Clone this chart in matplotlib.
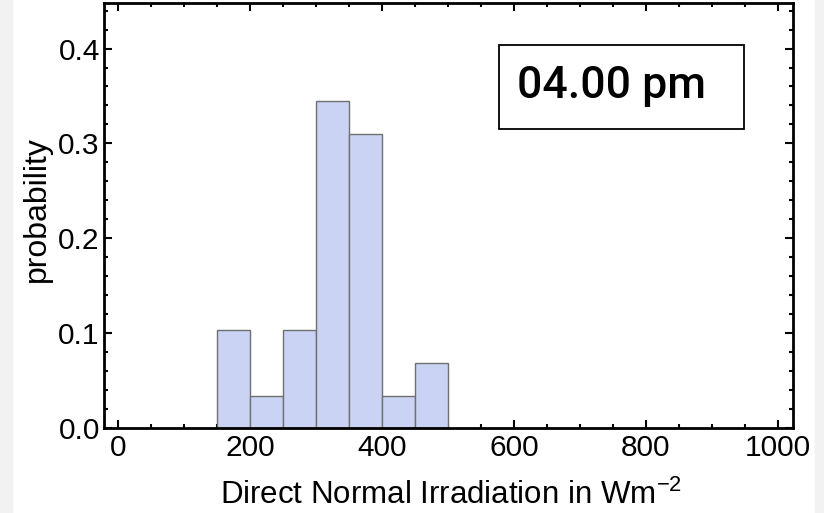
import matplotlib.pyplot as plt
from matplotlib.patches import Rectangle
from matplotlib.ticker import MultipleLocator

# histogram bins (W/m^2) and probabilities
bin_edges = [150, 200, 250, 300, 350, 400, 450, 500]
probabilities = [0.103, 0.034, 0.103, 0.345, 0.310, 0.034, 0.069]
x_ticks = [0, 200, 400, 600, 800, 1000]
y_ticks = [0.0, 0.1, 0.2, 0.3, 0.4]
time_label = "04.00 pm"

plt.rcParams['font.family'] = ['Liberation Sans', 'DejaVu Sans']
plt.rcParams['mathtext.fontset'] = 'custom'
plt.rcParams['mathtext.rm'] = 'Liberation Sans'

fig = plt.figure(figsize=(8.24, 5.13), dpi=100)
# light grey strips at the image borders
fig.patches.append(Rectangle((0, 0), 12 / 824, 1, transform=fig.transFigure,
                             color='#f2f2f2', zorder=-1))
fig.patches.append(Rectangle((815 / 824, 0), 9 / 824, 1, transform=fig.transFigure,
                             color='#f2f2f2', zorder=-1))

ax = fig.add_axes([104 / 824, 1 - 428 / 513, 689 / 824, 425 / 513])

lefts = bin_edges[:-1]
widths = [b - a for a, b in zip(bin_edges[:-1], bin_edges[1:])]
ax.bar(lefts, probabilities, width=widths, align='edge',
       color='#cad3f3', edgecolor='#707070', linewidth=1.0, zorder=2)

ax.set_xlim(-21, 1023)
ax.set_ylim(0, 0.448)
ax.set_xticks(x_ticks)
ax.set_yticks(y_ticks)
ax.set_yticklabels([f"{v:.1f}" for v in y_ticks])
ax.xaxis.set_minor_locator(MultipleLocator(50))
ax.yaxis.set_minor_locator(MultipleLocator(0.02))

ax.tick_params(which='both', direction='in', top=True, right=True,
               labelsize=21.5, colors='black', width=1.5)
ax.tick_params(which='major', length=6)
ax.tick_params(which='minor', length=3)
ax.tick_params(axis='x', pad=4)
ax.tick_params(axis='y', pad=3)
for s in ax.spines.values():
    s.set_linewidth(2)

ax.set_xlabel(r"Direct Normal Irradiation in Wm$^{\mathregular{-2}}$", fontsize=22.5)
ax.set_ylabel("probability", fontsize=23)
ax.xaxis.set_label_coords(0.504, -0.122)
ax.yaxis.set_label_coords(-0.076, 0.515)

ax.add_patch(Rectangle((0.573, 0.704), 0.356, 0.198, transform=ax.transAxes,
                       facecolor='white', edgecolor='black', linewidth=1.3, zorder=5))
ax.text(0.737, 0.776, time_label, transform=ax.transAxes, ha='center', va='baseline',
        fontsize=32, family=['Roboto', 'DejaVu Sans'], fontweight=500, zorder=6)

fig.savefig('out.png', dpi=100)
